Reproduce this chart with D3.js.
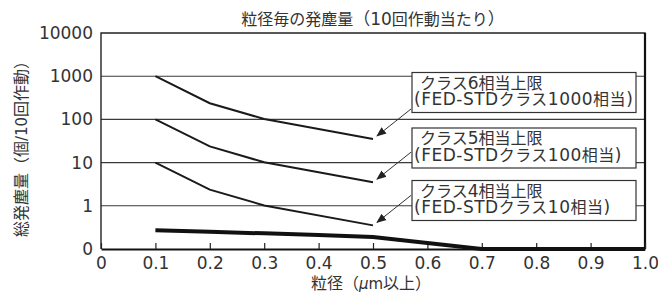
<!DOCTYPE html>
<html>
<head>
<meta charset="utf-8">
<script src="https://cdn.jsdelivr.net/npm/d3@7"></script>
<style>
  body { margin: 0; background: #fff; }
  svg { display: block; }
  text { font-family: "DejaVu Sans", "Noto Sans CJK JP", sans-serif; fill: #333; }
</style>
</head>
<body>
<svg id="chart" width="658" height="292"></svg>
<script>
// particle size (um) for the class limit lines
var sizes = [0.1, 0.2, 0.3, 0.5];
var class6 = [1000, 237, 102, 35.2];
var class5 = [100, 23.7, 10.2, 3.52];
var class4 = [10, 2.37, 1.02, 0.352];

// measured dust (0 drawn on the bottom line)
var measuredSizes = [0.1, 0.2, 0.3, 0.4, 0.5, 0.7, 0.8, 0.9, 1.0];
var measured = [0.27, 0.25, 0.23, 0.21, 0.19, 0, 0, 0, 0];

var xTicks = [0, 0.1, 0.2, 0.3, 0.4, 0.5, 0.6, 0.7, 0.8, 0.9, 1.0];
var xTickLabels = ["0", "0.1", "0.2", "0.3", "0.4", "0.5", "0.6", "0.7", "0.8", "0.9", "1.0"];
var yTicks = [0.1, 1, 10, 100, 1000, 10000];
var yTickLabels = ["0", "1", "10", "100", "1000", "10000"];

var labels = [
    ["クラス6相当上限", "(FED-STDクラス1000相当)"],
    ["クラス5相当上限", "(FED-STDクラス100相当)"],
    ["クラス4相当上限", "(FED-STDクラス10相当)"]
];

var svg = d3.select("#chart");
var pLeft = 101, pRight = 645, pTop = 33, pBottom = 249;

var x = d3.scaleLinear().domain([0, 1]).range([pLeft, pRight]);
var y = d3.scaleLog().domain([0.1, 10000]).range([pBottom, pTop]).clamp(true);

// grid lines
svg.append("g").selectAll("line")
    .data([1, 10, 100, 1000])
    .enter().append("line")
    .attr("x1", pLeft).attr("x2", pRight)
    .attr("y1", function(d) { return y(d); })
    .attr("y2", function(d) { return y(d); })
    .attr("stroke", "#3a3a3a")
    .attr("stroke-width", 1.1);

// frame
svg.append("path")
    .attr("d", "M" + pLeft + "," + pBottom + "V" + pTop + "H" + pRight + "V" + pBottom)
    .attr("fill", "none")
    .attr("stroke", "#222")
    .attr("stroke-width", 1.4);
svg.append("line")
    .attr("x1", pRight).attr("x2", pRight).attr("y1", pTop).attr("y2", pBottom)
    .attr("stroke", "#111").attr("stroke-width", 2.2);

// x axis
var xAxis = svg.append("g")
    .attr("transform", "translate(0," + pBottom + ")")
    .call(d3.axisBottom(x)
        .tickValues(xTicks)
        .tickFormat(function(d, i) { return xTickLabels[i]; })
        .tickSizeInner(-6)
        .tickSizeOuter(0)
        .tickPadding(8));
xAxis.select(".domain").attr("stroke", "#111").attr("stroke-width", 2);
xAxis.selectAll(".tick line").attr("stroke", "#222").attr("stroke-width", 1.2);
xAxis.selectAll("text").attr("font-size", 17).attr("fill", "#333")
    .style("font-family", "'DejaVu Sans', sans-serif");

// y axis
var yAxis = svg.append("g")
    .attr("transform", "translate(" + pLeft + ",0)")
    .call(d3.axisLeft(y)
        .tickValues(yTicks)
        .tickFormat(function(d, i) { return yTickLabels[i]; })
        .tickSize(0)
        .tickPadding(8));
yAxis.select(".domain").remove();
yAxis.selectAll("text").attr("font-size", 17).attr("fill", "#333")
    .style("font-family", "'DejaVu Sans', sans-serif");

// class lines
var line = d3.line()
    .x(function(d) { return x(d[0]); })
    .y(function(d) { return y(d[1]); });

[class6, class5, class4].forEach(function(vals) {
    svg.append("path")
        .datum(d3.zip(sizes, vals))
        .attr("d", line)
        .attr("fill", "none")
        .attr("stroke", "#1a1a1a")
        .attr("stroke-width", 2);
});

// measured line
svg.append("path")
    .datum(d3.zip(measuredSizes, measured))
    .attr("d", line)
    .attr("fill", "none")
    .attr("stroke", "#111")
    .attr("stroke-width", 4);

// arrows
svg.append("defs").append("marker")
    .attr("id", "arrow")
    .attr("viewBox", "0 0 10 10")
    .attr("refX", 9).attr("refY", 5)
    .attr("markerWidth", 10).attr("markerHeight", 10)
    .attr("markerUnits", "userSpaceOnUse")
    .attr("orient", "auto")
    .append("path")
    .attr("d", "M0,1L10,5L0,9Z")
    .attr("fill", "#222");

var ends = [class6[3], class5[3], class4[3]];
ends.forEach(function(v) {
    var tx = x(0.5) + 4, ty = y(v) - 3;
    svg.append("line")
        .attr("x1", tx + 34).attr("y1", ty - 27)
        .attr("x2", tx).attr("y2", ty)
        .attr("stroke", "#333")
        .attr("stroke-width", 1)
        .attr("marker-end", "url(#arrow)");
});

// CJK runs at 16px, latin runs a bit bigger
function mixedText(sel, str) {
    var parts = str.match(/[\u3000-\u9fff]+|[^\u3000-\u9fff]+/g);
    parts.forEach(function(p) {
        var cjk = /[\u3000-\u9fff]/.test(p);
        sel.append("tspan")
            .attr("font-size", cjk ? 16 : 17)
            .text(p);
    });
}

// label boxes
var boxTops = [72.5, 128, 180.5];
labels.forEach(function(lines, i) {
    var g = svg.append("g");
    g.append("rect")
        .attr("x", 412).attr("y", boxTops[i])
        .attr("width", 224).attr("height", 40)
        .attr("fill", "#fff")
        .attr("stroke", "#333")
        .attr("stroke-width", 1.2);
    mixedText(g.append("text").attr("x", 420).attr("y", boxTops[i] + 16), lines[0]);
    mixedText(g.append("text").attr("x", 414).attr("y", boxTops[i] + 32.5)
        .attr("letter-spacing", 0.5), lines[1]);
});

// titles
mixedText(svg.append("text")
    .attr("x", (pLeft + pRight) / 2).attr("y", 25)
    .attr("text-anchor", "middle"), "粒径毎の発塵量（10回作動当たり）");

var xl = svg.append("text")
    .attr("x", (pLeft + pRight) / 2 - 2).attr("y", 289)
    .attr("text-anchor", "middle")
    .attr("font-size", 16);
xl.append("tspan").text("粒径（");
xl.append("tspan").attr("font-style", "italic").attr("font-size", 15).text("μ");
xl.append("tspan").attr("font-size", 15).text("m");
xl.append("tspan").text("以上）");

var yl = svg.append("text")
    .attr("transform", "translate(27,145) rotate(-90)")
    .attr("text-anchor", "middle")
    .attr("font-size", 16);
yl.append("tspan").text("総発塵量（個");
yl.append("tspan").attr("font-size", 15).text("/10");
yl.append("tspan").text("回作動）");
</script>
</body>
</html>
